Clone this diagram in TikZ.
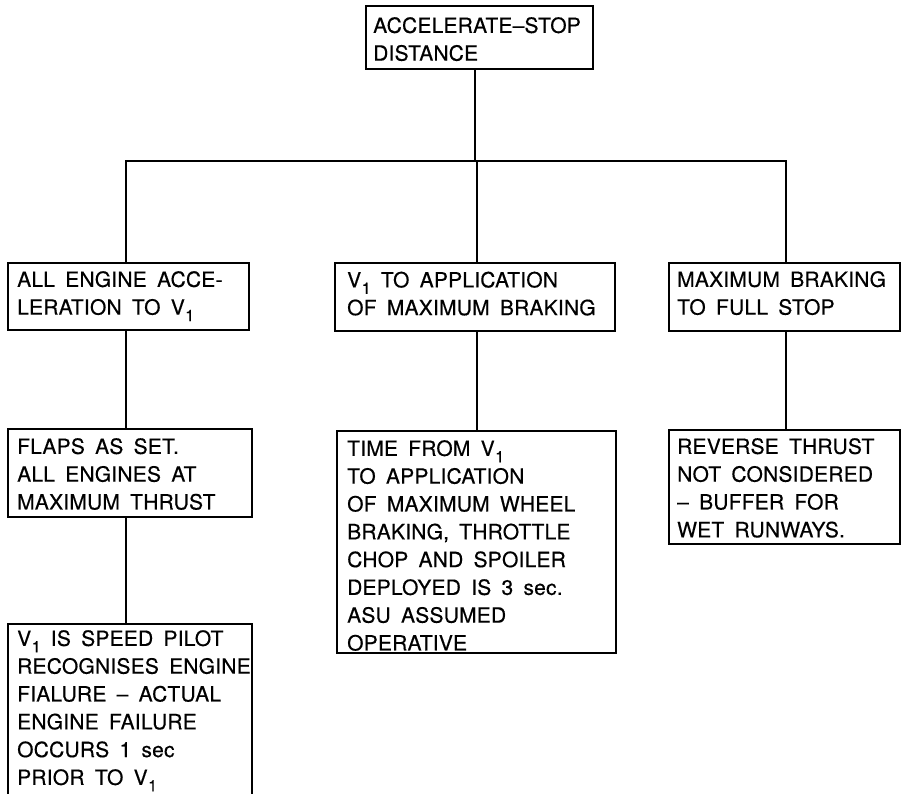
\documentclass[tikz,border=0pt]{standalone}
\usepackage{fontspec}
\setmainfont{TeX Gyre Heros}[LetterSpace=1,WordSpace=1.7,FakeBold=0.4]
\newcommand{\vone}{V\kern0.5pt\raisebox{-6.5pt}{\fontsize{16}{16}\selectfont 1}}
\begin{document}
\begin{tikzpicture}[x=1pt,y=-1pt,
  box/.style={draw,line width=1.6pt,rectangle,inner sep=0pt,anchor=north west},
  txt/.style={anchor=north west,inner sep=0pt,align=left,font=\fontsize{21}{27.8}\selectfont},
  link/.style={line width=1.6pt}]
\clip (0,0) rectangle (901,794);
\fill[white] (0,0) rectangle (901,794);
% boxes
\node[box,minimum width=227pt,minimum height=63pt] (top) at (365,5) {};
\node[box,minimum width=241pt,minimum height=67pt] (b1) at (7,262) {};
\node[box,minimum width=280pt,minimum height=68pt] (b2) at (334,262) {};
\node[box,minimum width=231pt,minimum height=68pt] (b3) at (668,262) {};
\node[box,minimum width=244pt,minimum height=88pt] (c1) at (7,428) {};
\node[box,minimum width=279pt,minimum height=222pt] (c2) at (336,430) {};
\node[box,minimum width=231pt,minimum height=114pt] (c3) at (668,429) {};
\node[box,minimum width=244pt,minimum height=200pt] (d1) at (7,623) {};
% texts
\node[txt] (ttop) at (373,17) {ACCELERATE–STOP\\DISTANCE};
\node[txt] (tb1) at (17,271) {ALL ENGINE ACCE-\\LERATION TO \vone};
\node[txt] (tb2) at (347,271.5) {\vone\ TO APPLICATION\\OF MAXIMUM BRAKING};
\node[txt] (tb3) at (677,271) {MAXIMUM BRAKING\\TO FULL STOP};
\node[txt] (tc1) at (17,438) {FLAPS AS SET.\\ALL ENGINES AT\\MAXIMUM THRUST};
\node[txt] (tc2) at (347,440) {TIME FROM \vone\\TO APPLICATION\\OF MAXIMUM WHEEL\\BRAKING, THROTTLE\\CHOP AND SPOILER\\DEPLOYED IS 3 sec.\\ASU ASSUMED\\OPERATIVE};
\node[txt] (tc3) at (677,438) {REVERSE THRUST\\NOT CONSIDERED\\– BUFFER FOR\\WET RUNWAYS.};
\node[txt] (td1) at (17,630) {\vone\ IS SPEED PILOT\\RECOGNISES ENGINE\\FIALURE – ACTUAL\\ENGINE FAILURE\\OCCURS 1 sec\\PRIOR TO \vone};
% connectors
\coordinate (hl) at (475,161);
\coordinate (x1) at (126,0);
\coordinate (x2) at (477,0);
\coordinate (x3) at (786,0);
\draw[link] (top.south -| hl) -- (hl);
\draw[link] (x1 |- b1.north) |- (x3 |- hl) -- (x3 |- b3.north);
\draw[link] (x2 |- b2.north) -- (x2 |- hl);
\draw[link] (x1 |- b1.south) -- (x1 |- c1.north);
\draw[link] (x2 |- b2.south) -- (x2 |- c2.north);
\draw[link] (x3 |- b3.south) -- (x3 |- c3.north);
\draw[link] (x1 |- c1.south) -- (x1 |- d1.north);
\end{tikzpicture}
\end{document}
